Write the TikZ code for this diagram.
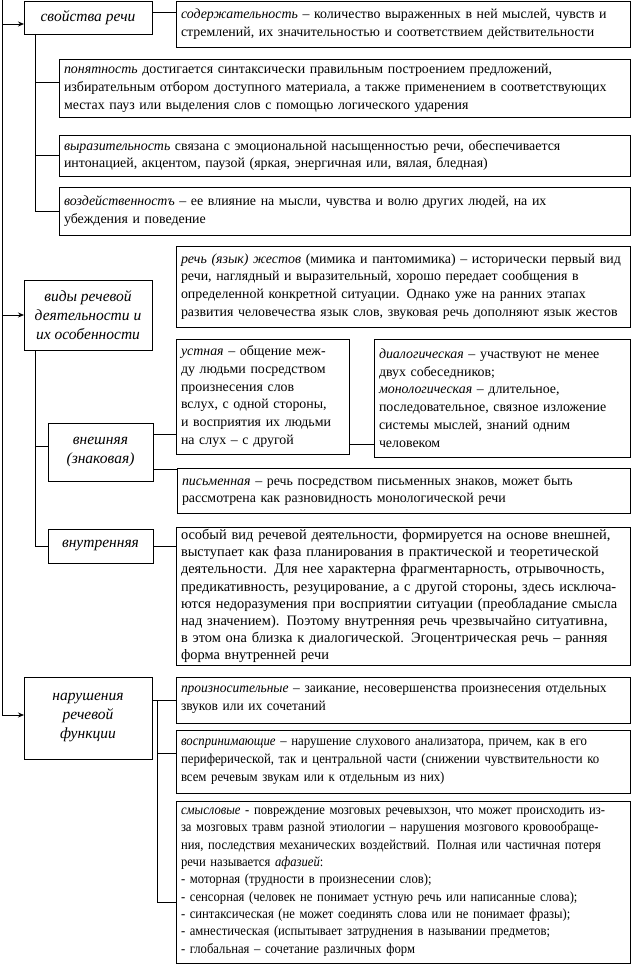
\documentclass[tikz,border=0pt]{standalone}
\usepackage{fontspec}
\setmainfont{Liberation Serif}
\newfontfamily\condA{Liberation Serif}[FakeStretch=0.97]
\newfontfamily\condB{Liberation Serif}[FakeStretch=0.92]
\newfontfamily\condC{Liberation Serif}[FakeStretch=0.91]
\usetikzlibrary{arrows.meta}
\begin{document}
\begin{tikzpicture}[x=1pt,y=-1pt,
  box/.style={draw, line width=0.8pt, anchor=north west, inner xsep=5pt, inner ysep=2pt, outer sep=0pt, align=left, font=\fontsize{13.9}{17.8}\selectfont},
  lbl/.style={draw, line width=0.8pt, anchor=north west, inner sep=2pt, outer sep=0pt, align=center, font=\fontsize{15.5}{19}\selectfont\itshape},
  con/.style={line width=0.8pt},
  arr/.style={line width=0.8pt, -{Stealth[length=6pt,width=5pt]}}]
\useasboundingbox (0,0) rectangle (633,971);

% left labels
\node[lbl, minimum width=128, minimum height=33] (svo) at (24,1) {свойства речи};
\node[lbl, minimum width=128, minimum height=70] (vid) at (24,280) {виды речевой\\деятельности и\\их особенности};
\node[lbl, minimum width=105, minimum height=58] (vne) at (48,423) {внешняя\\(знаковая)};
\node[lbl, minimum width=105, minimum height=34] (vnu) at (48,529) {внутренняя};
\node[lbl, minimum width=128, minimum height=82] (nar) at (24,677) {нарушения\\речевой\\функции};

% text boxes
\node[box, minimum width=454, minimum height=46, text width=444] (sod) at (176,1)
 {\emph{содержательность} – количество выраженных в ней мыслей, чувств и\\стремлений, их значительностью и соответствием действительности};
\node[box, minimum width=571, minimum height=58, text width=561] (pon) at (59,59)
 {\emph{понятность} достигается синтаксически правильным построением предложений,\\избирательным отбором доступного материала, а также применением в соответствующих\\местах пауз или выделения слов с помощью логического ударения};
\node[box, minimum width=571, minimum height=41, text width=561] (vyr) at (59,135)
 {\emph{выразительность} связана с эмоциональной насыщенностью речи, обеспечивается\\интонацией, акцентом, паузой (яркая, энергичная или, вялая, бледная)};
\node[box, minimum width=571, minimum height=48, text width=561] (voz) at (59,187)
 {\emph{воздейственностъ} – ее влияние на мысли, чувства и волю других людей, на их\\убеждения и поведение};
\node[box, minimum width=454, minimum height=81, text width=444] (zhe) at (176,246)
 {\emph{речь (язык) жестов} (мимика и пантомимика) – исторически первый вид\\речи, наглядный и выразительный, хорошо передает сообщения в\\определенной конкретной ситуации. Однако уже на ранних этапах\\развития человечества язык слов, звуковая речь дополняют язык жестов};
\node[box, minimum width=173, minimum height=115, text width=163] (ust) at (176,339)
 {\emph{устная} – общение меж-\\ду людьми посредством\\произнесения слов\\вслух, с одной стороны,\\и восприятия их людьми\\на слух – с другой};
\node[box, minimum width=256, minimum height=118, text width=246] (dia) at (374,339)
 {\emph{диалогическая} – участвуют не менее\\двух собеседников;\\\emph{монологическая} – длительное,\\последовательное, связное изложение\\системы мыслей, знаний одним\\человеком};
\node[box, minimum width=453, minimum height=45, text width=443] (pis) at (177,468)
 {\emph{письменная} – речь посредством письменных знаков, может быть\\рассмотрена как разновидность монологической речи};
\node[box, minimum width=454, minimum height=138, text width=444, font=\fontsize{14.4}{17.2}\selectfont] (oso) at (176,527)
 {особый вид речевой деятельности, формируется на основе внешней,\\выступает как фаза планирования в практической и теоретической\\деятельности. Для нее характерна фрагментарность, отрывочность,\\предикативность, резуцирование, а с другой стороны, здесь исключа-\\ются недоразумения при восприятии ситуации (преобладание смысла\\над значением). Поэтому внутренняя речь чрезвычайно ситуативна,\\в этом она близка к диалогической. Эгоцентрическая речь – ранняя\\форма внутренней речи};
\node[box, minimum width=454, minimum height=46, text width=444, font=\condA\fontsize{13.9}{18}\selectfont] (pro) at (176,677)
 {\emph{произносительные} – заикание, несовершенства произнесения отдельных\\звуков или их сочетаний};
\node[box, minimum width=454, minimum height=63, text width=444, font=\condB\fontsize{13.9}{18}\selectfont] (vos) at (176,730)
 {\emph{воспринимающие} – нарушение слухового анализатора, причем, как в его\\периферической, так и центральной части (снижении чувствительности ко\\всем речевым звукам или к отдельным из них)};
\node[box, minimum width=454, minimum height=162, text width=444, font=\condC\fontsize{13.9}{17.3}\selectfont] (smy) at (176,801)
 {\emph{смысловые} - повреждение мозговых речевыхзон, что может происходить из-\\за мозговых травм разной этиологии – нарушения мозгового кровообраще-\\ния, последствия механических воздействий. Полная или частичная потеря\\речи называется \emph{афазией}:\\- моторная (трудности в произнесении слов);\\- сенсорная (человек не понимает устную речь или написанные слова);\\- синтаксическая (не может соединять слова или не понимает фразы);\\- амнестическая (испытывает затруднения в назывании предметов;\\- глобальная – сочетание различных форм};

% spine and arrows
\coordinate (sp0) at (2,0);
\coordinate (sp1) at (2,24);
\coordinate (sp2) at (2,315);
\coordinate (sp3) at (2,715);
\draw[con] (sp0) -- (sp3);
\draw[arr] (sp1) -- (sp1 -| svo.west);
\draw[arr] (sp2) -- (sp2 -| vid.west);
\draw[arr] (sp3) -- (sp3 -| nar.west);

% свойства речи
\coordinate (c0) at (0,12);
\draw[con] (c0 -| svo.east) -- (c0 -| sod.west);
\coordinate (b1) at (35,82);
\coordinate (b2) at (35,155);
\coordinate (b3) at (35,211);
\draw[con] (b1 |- svo.south) -- (b3) -- (b3 -| voz.west);
\draw[con] (b1) -- (b1 -| pon.west);
\draw[con] (b2) -- (b2 -| vyr.west);

% виды речевой деятельности
\coordinate (d1) at (35,446);
\coordinate (d2) at (35,546);
\draw[con] (d1 |- vid.south) -- (d2) -- (d2 -| vnu.west);
\draw[con] (d1) -- (d1 -| vne.west);
\coordinate (e1) at (0,434);
\coordinate (e2) at (0,469);
\coordinate (e3) at (0,444);
\draw[con] (e1 -| vne.east) -- (e1 -| ust.west);
\draw[con] (e2 -| vne.east) -- (e2 -| pis.west);
\draw[con] (e3 -| ust.east) -- (e3 -| dia.west);
\draw[con] (d2 -| vnu.east) -- (d2 -| oso.west);

% нарушения
\coordinate (n1) at (157,700);
\coordinate (n2) at (157,753);
\coordinate (n3) at (157,902);
\draw[con] (n1 -| nar.east) -- (n1 -| pro.west);
\draw[con] (n1) -- (n3) -- (n3 -| smy.west);
\draw[con] (n2) -- (n2 -| vos.west);
\end{tikzpicture}
\end{document}
